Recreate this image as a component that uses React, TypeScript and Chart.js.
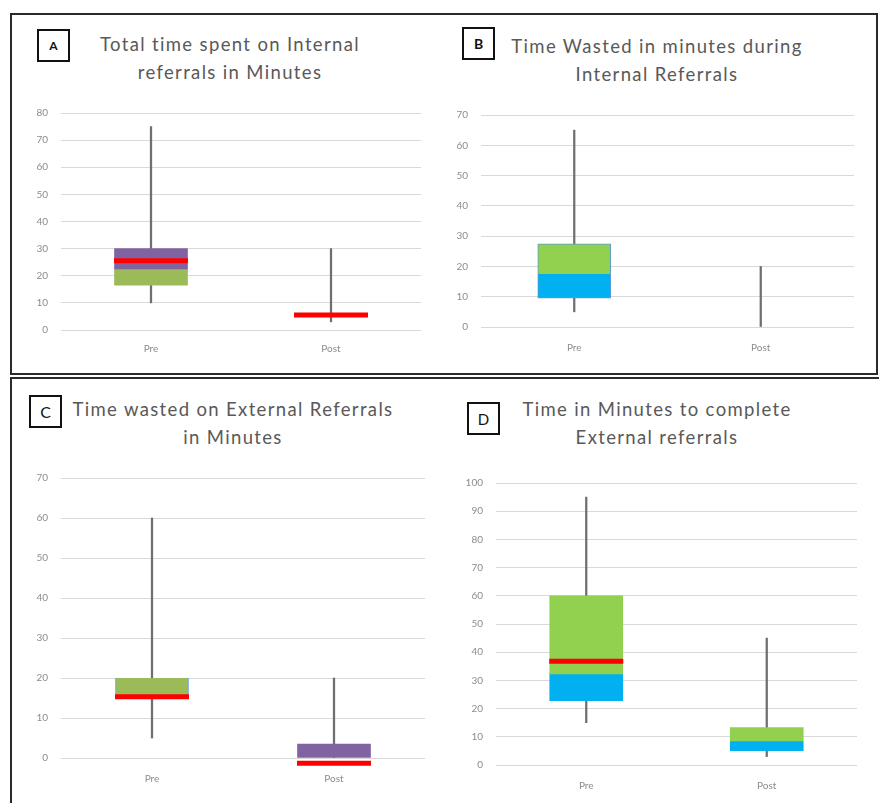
import React, { useEffect, useRef } from "react";
import { Chart, registerables } from "chart.js";

Chart.register(...registerables);

type Range = [number, number] | null;

const categories = ["Pre", "Post"];

// Panel A – Total time spent on Internal referrals
const aTicksMax = 80;
const aWhiskerLow = [10, 3];
const aWhiskerHigh = [75, 30];
const aLowerBox: Range[] = [[16.5, 22.5], null];
const aUpperBox: Range[] = [[22.5, 30], null];
const aMedian = [25.5, 5.5];

// Panel B – Time wasted during Internal referrals
const bTicksMax = 70;
const bWhiskerLow = [5, 0];
const bWhiskerHigh = [65, 20];
const bLowerBox: Range[] = [[9.5, 17.5], null];
const bUpperBox: Range[] = [[17.5, 27.5], null];
const bMedian: (number | null)[] = [null, null];

// Panel C – Time wasted on External referrals
const cTicksMax = 70;
const cWhiskerLow = [5, 0];
const cWhiskerHigh = [60, 20];
const cLowerBox: Range[] = [[15, 20], [0, 3.5]];
const cUpperBox: Range[] = [null, null];
const cMedian = [15.3, -1.3];

// Panel D – Time to complete External referrals
const dTicksMax = 100;
const dWhiskerLow = [15, 3];
const dWhiskerHigh = [95, 45];
const dLowerBox: Range[] = [[22.8, 32.3], [5.1, 8.5]];
const dUpperBox: Range[] = [[32.3, 60], [8.5, 13.3]];
const dMedian: (number | null)[] = [36.8, null];

const GREEN_OLIVE = "#9bbb59";
const PURPLE = "#8064a2";
const GREEN = "#92d050";
const BLUE = "#00b0f0";
const RED = "#ff0000";
const WHISKER = "#6f6f6f";
const OUTLINE = "#5b9bd5";

interface PanelSpec {
  area: { left: number; top: number; right: number; bottom: number };
  max: number;
  step: number;
  whiskerLow: number[];
  whiskerHigh: number[];
  lowerBox: Range[];
  upperBox: Range[];
  median: (number | null)[];
  lowerColors: string[];
  upperColors: string[];
  lowerBorder: number[];
  upperBorder: number[];
  xPad: number;
}

const panels: PanelSpec[] = [
  {
    area: { left: 61, top: 106, right: 421, bottom: 330 },
    max: aTicksMax,
    step: 10,
    whiskerLow: aWhiskerLow,
    whiskerHigh: aWhiskerHigh,
    lowerBox: aLowerBox,
    upperBox: aUpperBox,
    median: aMedian,
    lowerColors: [GREEN_OLIVE, GREEN_OLIVE],
    upperColors: [PURPLE, PURPLE],
    lowerBorder: [0, 0],
    upperBorder: [0, 0],
    xPad: 13,
  },
  {
    area: { left: 481, top: 108, right: 854, bottom: 327 },
    max: bTicksMax,
    step: 10,
    whiskerLow: bWhiskerLow,
    whiskerHigh: bWhiskerHigh,
    lowerBox: bLowerBox,
    upperBox: bUpperBox,
    median: bMedian,
    lowerColors: [BLUE, BLUE],
    upperColors: [GREEN, GREEN],
    lowerBorder: [1, 0],
    upperBorder: [1, 0],
    xPad: 15,
  },
  {
    area: { left: 61, top: 471, right: 425, bottom: 758 },
    max: cTicksMax,
    step: 10,
    whiskerLow: cWhiskerLow,
    whiskerHigh: cWhiskerHigh,
    lowerBox: cLowerBox,
    upperBox: cUpperBox,
    median: cMedian,
    lowerColors: [GREEN_OLIVE, PURPLE],
    upperColors: [GREEN_OLIVE, PURPLE],
    lowerBorder: [1, 0],
    upperBorder: [0, 0],
    xPad: 15,
  },
  {
    area: { left: 496, top: 476, right: 857, bottom: 765 },
    max: dTicksMax,
    step: 10,
    whiskerLow: dWhiskerLow,
    whiskerHigh: dWhiskerHigh,
    lowerBox: dLowerBox,
    upperBox: dUpperBox,
    median: dMedian,
    lowerColors: [BLUE, BLUE],
    upperColors: [GREEN, GREEN],
    lowerBorder: [0, 0],
    upperBorder: [0, 0],
    xPad: 15,
  },
];

const Y_W = 45;
const PAD_TOP = 12;
const PAD_RIGHT = 12;
const X_H = 34;

function BoxPanel({ spec }: { spec: PanelSpec }) {
  const ref = useRef<HTMLCanvasElement | null>(null);
  const { area } = spec;
  const left = area.left - Y_W;
  const top = area.top - PAD_TOP;
  const width = area.right - left + PAD_RIGHT;
  const height = area.bottom + X_H - top;

  useEffect(() => {
    if (!ref.current) return;
    const whiskers = categories.map((_, i) => [spec.whiskerLow[i], spec.whiskerHigh[i]]);
    const chart = new Chart(ref.current, {
      type: "bar",
      data: {
        labels: categories,
        datasets: [
          {
            type: "bar",
            data: whiskers as any,
            backgroundColor: WHISKER,
            barThickness: 1.6,
            grouped: false,
            order: 4,
          },
          {
            type: "bar",
            data: spec.lowerBox as any,
            backgroundColor: spec.lowerColors,
            borderColor: OUTLINE,
            borderWidth: spec.lowerBorder,
            borderSkipped: "top",
            barThickness: 73,
            grouped: false,
            order: 3,
          },
          {
            type: "bar",
            data: spec.upperBox as any,
            backgroundColor: spec.upperColors,
            borderColor: OUTLINE,
            borderWidth: spec.upperBorder,
            borderSkipped: "bottom",
            barThickness: 73,
            grouped: false,
            order: 2,
          },
          {
            type: "line",
            data: spec.median as any,
            showLine: false,
            pointStyle: "line",
            pointRadius: 37,
            pointHoverRadius: 37,
            pointBorderWidth: 5,
            pointHoverBorderWidth: 5,
            pointBorderColor: RED,
            pointBackgroundColor: RED,
            borderColor: RED,
            clip: false as any,
            order: 1,
          } as any,
        ],
      },
      options: {
        animation: false,
        responsive: false,
        maintainAspectRatio: false,
        layout: {
          autoPadding: false,
          padding: { top: PAD_TOP, right: PAD_RIGHT, left: 0, bottom: 0 },
        },
        plugins: {
          legend: { display: false },
          tooltip: { enabled: false },
          title: { display: false },
        },
        scales: {
          x: {
            grid: { display: false, drawTicks: false },
            border: { display: false },
            ticks: {
              padding: spec.xPad,
              color: "#8c8c8c",
              font: { family: "Lato", size: 10 },
            },
            afterFit: (s: any) => {
              s.height = X_H;
            },
          },
          y: {
            min: 0,
            max: spec.max,
            grid: { color: "#d9d9d9", lineWidth: 1, drawTicks: false },
            border: { display: false },
            ticks: {
              stepSize: spec.step,
              padding: 13,
              color: "#8c8c8c",
              font: { family: "Lato", size: 10 },
            },
            afterFit: (s: any) => {
              s.width = Y_W;
            },
          },
        },
      },
    } as any);
    return () => chart.destroy();
  }, [spec]);

  return (
    <canvas
      ref={ref}
      width={width}
      height={height}
      style={{ position: "absolute", left, top, width, height }}
    />
  );
}

const titleStyle: React.CSSProperties = {
  position: "absolute",
  fontFamily: "Lato, 'Open Sans', sans-serif",
  fontSize: 18.5,
  letterSpacing: 1.35,
  color: "#595959",
  textAlign: "center",
  lineHeight: "28px",
  whiteSpace: "nowrap",
  transform: "translateX(-50%)",
};

function Letter({ x, y, w, h, text, bold, size }: { x: number; y: number; w: number; h: number; text: string; bold: boolean; size: number }) {
  return (
    <div
      style={{
        position: "absolute",
        left: x,
        top: y,
        width: w,
        height: h,
        boxSizing: "border-box",
        border: "2px solid #111",
        display: "flex",
        alignItems: "center",
        justifyContent: "center",
        fontFamily: "Lato, sans-serif",
        fontWeight: bold ? 700 : 400,
        fontSize: size,
        color: "#111",
        background: "#fff",
      }}
    >
      {text}
    </div>
  );
}

export default function App() {
  return (
    <div
      style={{
        position: "absolute",
        left: 0,
        top: 0,
        width: 879,
        height: 803,
        overflow: "hidden",
        background: "#fff",
      }}
    >
      <div
        style={{
          position: "absolute",
          left: 10,
          top: 13,
          width: 868,
          height: 362,
          boxSizing: "border-box",
          border: "2px solid #2a2a2a",
        }}
      />
      <div
        style={{
          position: "absolute",
          left: 10,
          top: 377,
          width: 880,
          height: 440,
          boxSizing: "border-box",
          border: "2px solid #2a2a2a",
        }}
      />

      {panels.map((p, i) => (
        <BoxPanel key={i} spec={p} />
      ))}

      <div style={{ ...titleStyle, left: 230, top: 30 }}>
        Total time spent on Internal
        <br />
        referrals in Minutes
      </div>
      <div style={{ ...titleStyle, left: 657, top: 32 }}>
        Time Wasted in minutes during
        <br />
        Internal Referrals
      </div>
      <div style={{ ...titleStyle, left: 233, top: 395 }}>
        Time wasted on External Referrals
        <br />
        in Minutes
      </div>
      <div style={{ ...titleStyle, left: 657, top: 395 }}>
        Time in Minutes to complete
        <br />
        External referrals
      </div>

      <Letter x={37} y={29} w={33} h={33} text="A" bold={true} size={12} />
      <Letter x={462} y={27} w={33} h={33} text="B" bold={true} size={14} />
      <Letter x={29} y={395} w={33} h={33} text="C" bold={false} size={16} />
      <Letter x={467} y={402} w={33} h={33} text="D" bold={false} size={15} />
    </div>
  );
}
